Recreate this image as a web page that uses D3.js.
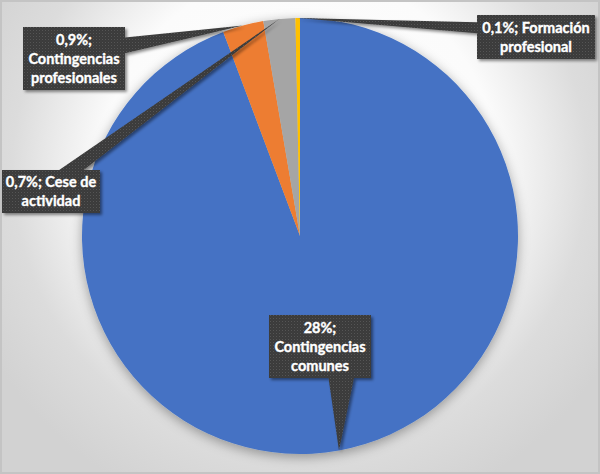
<!DOCTYPE html>
<html>
<head>
<meta charset="utf-8">
<script src="https://cdn.jsdelivr.net/npm/d3@7"></script>
<style>
  html, body { margin: 0; padding: 0; background: #fff; }
  svg { display: block; }
</style>
</head>
<body>
<svg id="chart" width="600" height="474"></svg>
<script>
// ---- Data ----
const categories = ["Contingencias comunes", "Contingencias profesionales", "Cese de actividad", "Formación profesional"];
const values = [28, 0.9, 0.7, 0.1];
const colors = ["#4472C4", "#ED7D31", "#A5A5A5", "#FFC000"];
// label text wrapping (as in the reference)
const labelLines = [
  ["28%;", "Contingencias", "comunes"],
  ["0,9%;", "Contingencias", "profesionales"],
  ["0,7%; Cese de", "actividad"],
  ["0,1%; Formación", "profesional"]
];
// ---- Layout (callout boxes: x, y, w, h) ----
const labelBoxes = [
  [269, 315, 102, 63],
  [23, 27, 102, 63],
  [2, 170, 98, 43],
  [477, 15, 118, 44]
];

const W = 600, H = 474;
const cx = 300, cy = 236, R = 218;
const svg = d3.select("#chart");
const defs = svg.append("defs");

// background gradient
const bg = defs.append("radialGradient").attr("id", "bg")
  .attr("gradientUnits", "userSpaceOnUse")
  .attr("cx", 300).attr("cy", 170).attr("r", 360);
bg.append("stop").attr("offset", "0").attr("stop-color", "#ffffff");
bg.append("stop").attr("offset", "0.55").attr("stop-color", "#fbfbfb");
bg.append("stop").attr("offset", "0.8").attr("stop-color", "#dcdcdc");
bg.append("stop").attr("offset", "1").attr("stop-color", "#d2d2d2");

// pie shadow
const ps = defs.append("filter").attr("id", "pieShadow")
  .attr("x", "-20%").attr("y", "-20%").attr("width", "140%").attr("height", "140%");
ps.append("feDropShadow").attr("dx", 0).attr("dy", 3).attr("stdDeviation", 6)
  .attr("flood-color", "#000").attr("flood-opacity", 0.35);

// box shadow
const bs = defs.append("filter").attr("id", "boxShadow")
  .attr("x", "-20%").attr("y", "-20%").attr("width", "150%").attr("height", "150%");
bs.append("feDropShadow").attr("dx", 2).attr("dy", 2).attr("stdDeviation", 1.5)
  .attr("flood-color", "#000").attr("flood-opacity", 0.45);

// dotted texture
const pat = defs.append("pattern").attr("id", "tex")
  .attr("patternUnits", "userSpaceOnUse").attr("width", 3).attr("height", 3);
pat.append("rect").attr("width", 3).attr("height", 3).attr("fill", "#3a3a3a");
pat.append("rect").attr("x", 0).attr("y", 0).attr("width", 1).attr("height", 1).attr("fill", "#545454");
pat.append("rect").attr("x", 1.5).attr("y", 1.5).attr("width", 1).attr("height", 1).attr("fill", "#474747");

// background and frame
svg.append("rect").attr("width", W).attr("height", H).attr("fill", "url(#bg)");
svg.append("rect").attr("x", 1).attr("y", 1).attr("width", W - 2).attr("height", H - 2)
  .attr("fill", "none").attr("stroke", "#c4c4c4").attr("stroke-width", 2);

// pie
const pie = d3.pie().sort(null).value(d => d)(values);
const arc = d3.arc().innerRadius(0).outerRadius(R);
const g = svg.append("g").attr("transform", `translate(${cx},${cy})`);
g.append("g").attr("filter", "url(#pieShadow)")
  .selectAll("path").data(pie).join("path")
  .attr("d", arc)
  .attr("fill", (d, i) => colors[i]);

// callouts
const lineH = 19;
pie.forEach((d, i) => {
  const mid = (d.startAngle + d.endAngle) / 2;
  const tx = cx + Math.sin(mid) * R;
  const ty = cy - Math.cos(mid) * R;
  const [bx, by, bw, bh] = labelBoxes[i];
  const bcx = bx + bw / 2, bcy = by + bh / 2;
  const dx = tx - bcx, dy = ty - bcy;
  let p1, p2;
  if (Math.abs(dx) / bw > Math.abs(dy) / bh) {
    const ex = dx > 0 ? bx + bw : bx;
    const f = dy < 0 ? [2 / 12, 5 / 12] : [7 / 12, 10 / 12];
    p1 = [ex, by + bh * f[0]]; p2 = [ex, by + bh * f[1]];
  } else {
    const ey = dy > 0 ? by + bh : by;
    const f = dx < 0 ? [2 / 12, 5 / 12] : [7 / 12, 10 / 12];
    p1 = [bx + bw * f[0], ey]; p2 = [bx + bw * f[1], ey];
  }
  const lg = svg.append("g").attr("filter", "url(#boxShadow)");
  const path = d3.path();
  path.rect(bx, by, bw, bh);
  lg.append("path")
    .attr("d", `M${p1[0]},${p1[1]}L${tx},${ty}L${p2[0]},${p2[1]}Z`)
    .attr("fill", "url(#tex)");
  lg.append("path").attr("d", path.toString()).attr("fill", "url(#tex)");

  const lines = labelLines[i];
  const n = lines.length;
  const t = svg.append("text")
    .attr("text-anchor", "middle")
    .attr("font-family", "Lato, 'Open Sans', sans-serif")
    .attr("font-weight", "bold")
    .attr("font-size", 14.5)
    .attr("fill", "#ffffff")
    .attr("stroke", "#ffffff")
    .attr("stroke-width", 0.35);
  lines.forEach((ln, k) => {
    t.append("tspan")
      .attr("x", bcx)
      .attr("y", bcy + (k - (n - 1) / 2) * lineH)
      .attr("dy", "0.35em")
      .text(ln);
  });
});
</script>
</body>
</html>
